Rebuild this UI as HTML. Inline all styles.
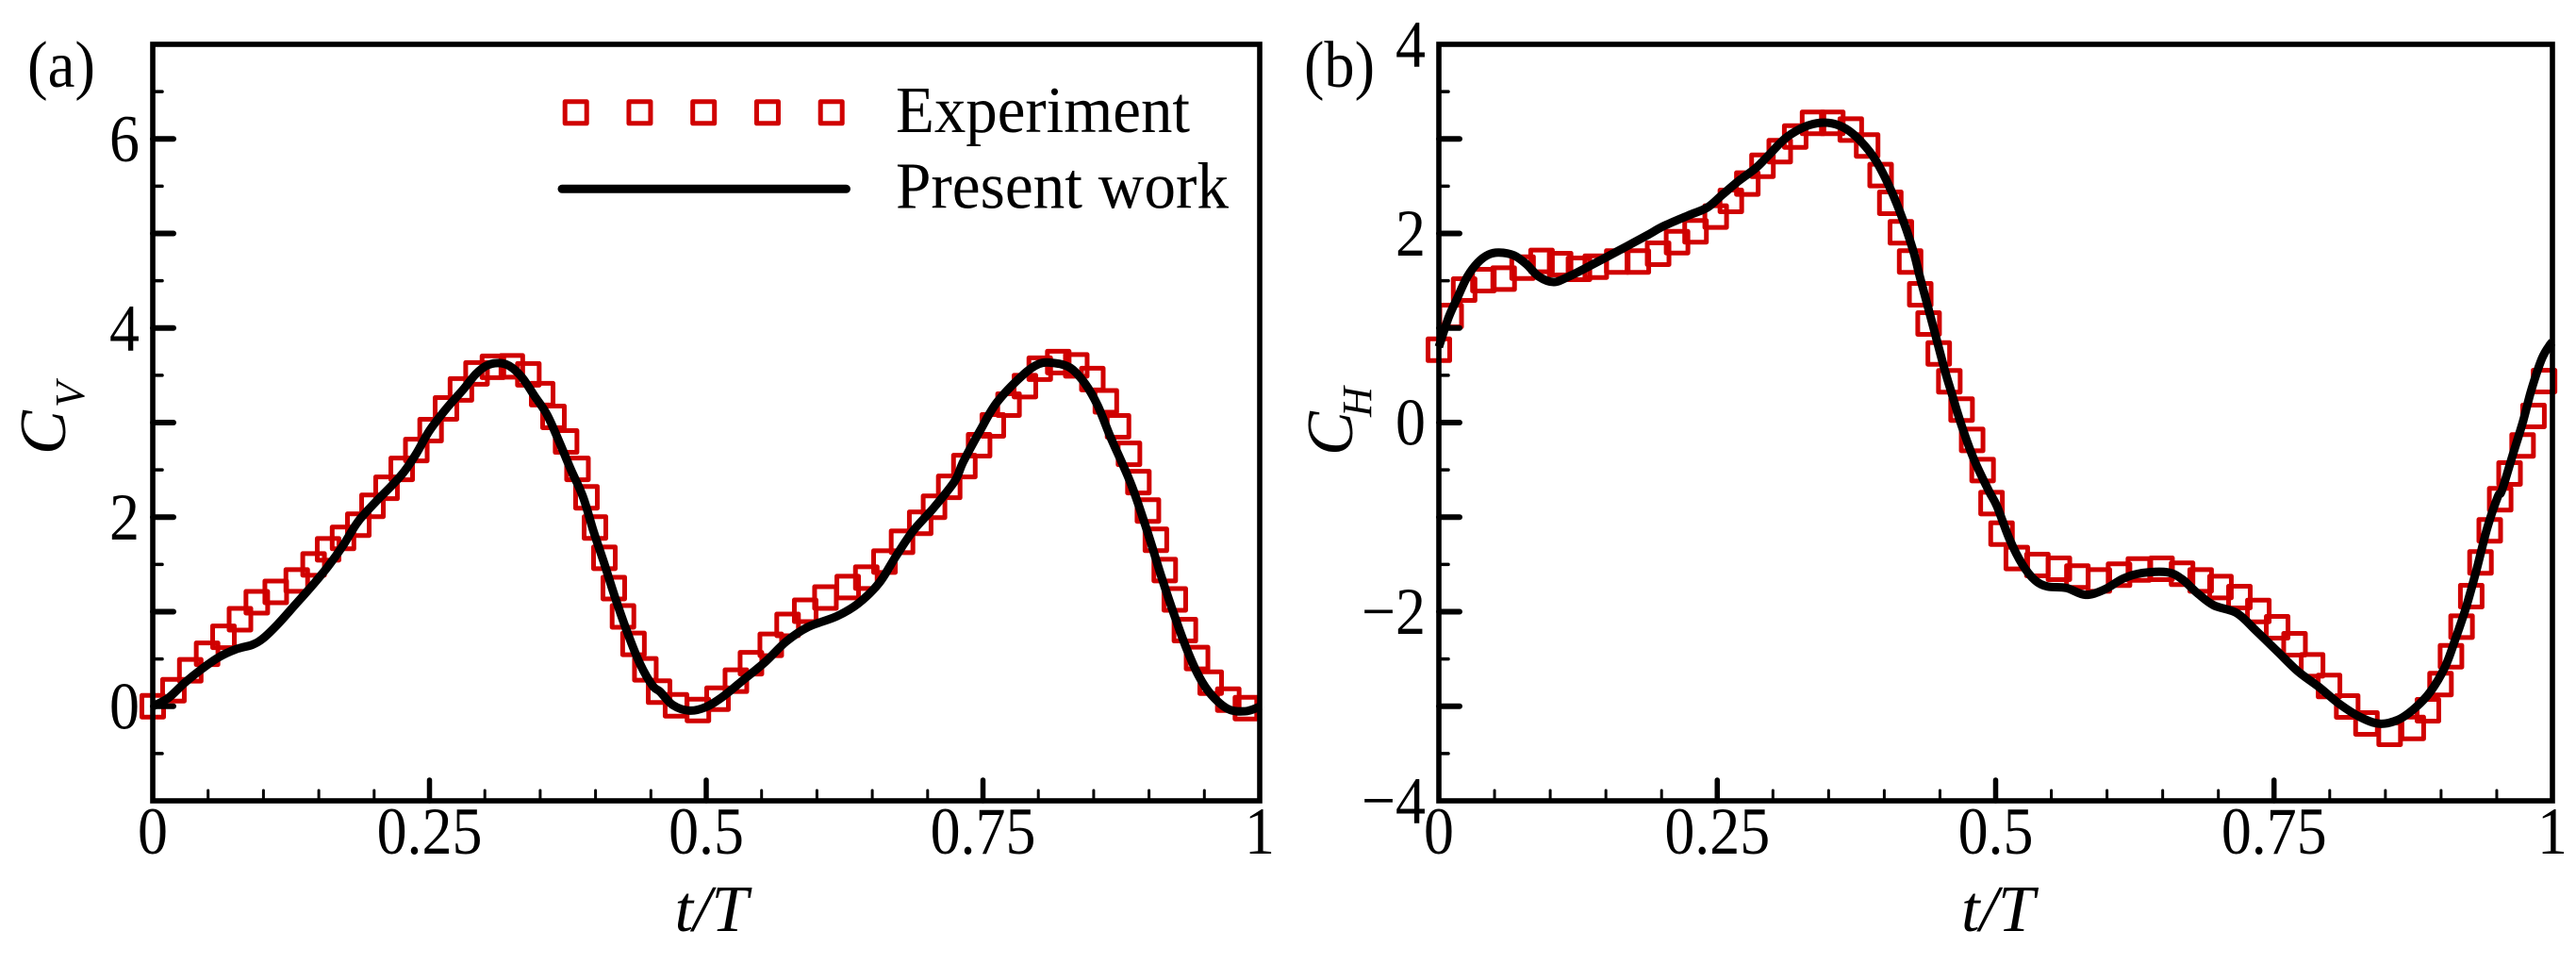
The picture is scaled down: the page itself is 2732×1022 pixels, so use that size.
<!DOCTYPE html>
<html lang="en">
<head>
<meta charset="utf-8">
<title>CV and CH over t/T</title>
<style>
html,body{margin:0;padding:0;background:#fff;width:2732px;height:1022px;overflow:hidden}
svg{display:block}
text{font-family:"Liberation Serif",serif;fill:#000}
</style>
</head>
<body>
<svg id="fig" xmlns="http://www.w3.org/2000/svg" width="2732" height="1022" viewBox="0 0 2732 1022"></svg>
<script>
// Panel (a)
const expTimeA = [0,.0187,.0339,.0491,.0639,.0788,.094,.1111,.1301,.1453,.1584,.1719,.1857,.1985,.2112,.2249,.2381,.251,.2649,.2784,.2925,.3073,.3244,.3393,.3518,.362,.3734,.3837,.3918,.3995,.408,.4165,.4248,.4343,.445,.4574,.4727,.4925,.5102,.5268,.5404,.5583,.5735,.5894,.6077,.6278,.6446,.661,.6769,.6933,.7058,.7195,.7332,.7465,.7589,.7731,.7879,.8013,.818,.8343,.8488,.861,.872,.8819,.8904,.899,.9062,.9142,.9233,.9324,.9434,.9557,.9716,.9875];
const expValueA = [0,.17,.38,.555,.735,.92,1.1,1.21,1.33,1.5,1.66,1.78,1.92,2.12,2.31,2.51,2.71,2.92,3.15,3.35,3.52,3.59,3.595,3.51,3.3,3.06,2.8,2.51,2.21,1.89,1.57,1.25,.95,.66,.39,.154,.01,-.04,.08,.27,.455,.65,.86,1.01,1.15,1.26,1.36,1.53,1.74,1.94,2.11,2.32,2.54,2.76,2.97,3.19,3.385,3.57,3.64,3.605,3.46,3.225,2.96,2.67,2.37,2.07,1.76,1.44,1.13,.805,.51,.25,.07,-.02];
const lineTimeA = [0,.0141,.0293,.0445,.0597,.075,.0902,.0997,.113,.1282,.1434,.1586,.1719,.1853,.2004,.2157,.2271,.2385,.2499,.2651,.2802,.2917,.3012,.3118,.3221,.3336,.345,.3564,.3678,.3773,.3887,.3982,.4077,.4172,.4286,.44,.4514,.4583,.4697,.4849,.5001,.5153,.5343,.5533,.5723,.5914,.618,.637,.656,.6712,.6865,.7055,.7245,.732,.7473,.7625,.7853,.8005,.8138,.829,.8423,.8537,.8652,.8766,.886,.8994,.9108,.9222,.9336,.945,.9564,.9716,.9868,.9983,1];
const lineValueA = [0,.087,.253,.396,.519,.602,.652,.718,.868,1.067,1.267,1.483,1.7,1.95,2.149,2.331,2.481,2.68,2.913,3.146,3.346,3.511,3.6,3.63,3.6,3.478,3.279,3.079,2.78,2.514,2.214,1.849,1.516,1.167,.785,.453,.219,.154,.014,-.046,-.006,.104,.286,.469,.685,.835,.952,1.084,1.301,1.583,1.849,2.099,2.381,2.581,2.913,3.212,3.495,3.62,3.63,3.578,3.411,3.179,2.847,2.548,2.281,1.815,1.384,.985,.618,.319,.12,-.03,-.053,-.013,0];

// Panel (b)
const expTimeB = [0,.0106,.0227,.04,.0582,.0752,.0922,.1089,.1258,.1409,.1602,.1787,.1969,.2139,.2305,.2486,.2622,.277,.2906,.3061,.32,.336,.3533,.3699,.3846,.3967,.4054,.4149,.4232,.4323,.4398,.4489,.4584,.4694,.4789,.4883,.4963,.5053,.519,.5375,.5568,.5734,.5927,.6108,.6286,.649,.6674,.6841,.7019,.7189,.7359,.7528,.7684,.7842,.7994,.8157,.833,.8538,.8746,.8882,.8995,.9089,.9184,.9271,.9354,.9437,.9531,.9615,.9732,.983,.9925];
const expValueB = [.77,1.127,1.406,1.506,1.523,1.639,1.709,1.676,1.626,1.649,1.703,1.703,1.786,1.908,2.022,2.178,2.344,2.527,2.716,2.87,3.025,3.169,3.169,3.099,2.93,2.617,2.324,2.012,1.703,1.357,1.047,.731,.436,.137,-.183,-.502,-.851,-1.174,-1.433,-1.506,-1.546,-1.629,-1.669,-1.609,-1.553,-1.546,-1.599,-1.669,-1.739,-1.845,-1.992,-2.165,-2.344,-2.567,-2.786,-3.002,-3.182,-3.292,-3.229,-3.042,-2.766,-2.471,-2.158,-1.835,-1.479,-1.14,-.811,-.539,-.242,.07,.439];
const lineTimeB = [0,.0087,.0163,.0256,.0351,.0446,.054,.0672,.0785,.0899,.1032,.1164,.1334,.1598,.1862,.2014,.2241,.2411,.2543,.2694,.2845,.2958,.311,.3261,.3393,.3526,.3658,.379,.3923,.4054,.4168,.4262,.4319,.4395,.447,.4545,.4596,.4691,.4804,.4937,.5012,.5125,.5239,.5352,.5465,.5636,.5806,.5976,.6146,.6316,.6542,.6674,.6807,.6958,.7166,.7336,.7525,.7714,.7903,.8092,.8281,.8451,.8621,.8772,.8904,.9037,.9131,.9226,.932,.9414,.9509,.9546,.9641,.9736,.9811,.9906,.9981,1];
const lineValueB = [.8,1.11,1.31,1.543,1.693,1.776,1.798,1.769,1.676,1.543,1.486,1.543,1.643,1.808,1.975,2.075,2.191,2.274,2.407,2.557,2.69,2.823,3.005,3.115,3.165,3.165,3.105,2.973,2.773,2.474,2.142,1.808,1.543,1.21,.878,.546,.346,-.02,-.386,-.718,-.885,-1.234,-1.499,-1.666,-1.733,-1.749,-1.822,-1.766,-1.649,-1.59,-1.583,-1.656,-1.799,-1.932,-2.015,-2.198,-2.414,-2.63,-2.796,-2.98,-3.119,-3.185,-3.139,-3.012,-2.846,-2.58,-2.281,-1.948,-1.549,-1.117,-.785,-.718,-.352,.013,.346,.678,.828,.85];

// Tick values and labels
const xMajorTicks = [0,.25,.5,.75,1];
const xMinorTicks = [.05,.1,.15,.2,.3,.35,.4,.45,.55,.6,.65,.7,.8,.85,.9,.95];
const xTickLabels = ['0','0.25','0.5','0.75','1'];
const yMajorTicksA = [0,1,2,3,4,5,6];
const yMinorTicksA = [-.5,.5,1.5,2.5,3.5,4.5,5.5,6.5];
const yLabelValuesA = [0,2,4,6];
const yTickLabelsA = ['0','2','4','6'];
const yMajorTicksB = [-3,-2,-1,0,1,2,3];
const yMinorTicksB = [-3.5,-2.5,-1.5,-.5,.5,1.5,2.5,3.5];
const yLabelValuesB = [-4,-2,0,2,4];
const yTickLabelsB = ['\u22124','\u22122','0','2','4'];
const legendMarkerSlots = [0,1,2,3,4];

const RED = '#d00000';
const svg = document.getElementById('fig');
const NS = 'http://www.w3.org/2000/svg';

function make(parent, tag, attrs, txt) {
  const el = document.createElementNS(NS, tag);
  for (const k in attrs) el.setAttribute(k, attrs[k]);
  if (txt !== undefined) el.textContent = txt;
  parent.appendChild(el);
  return el;
}

function smoothPath(pts) {
  let d = 'M' + pts[0][0].toFixed(2) + ' ' + pts[0][1].toFixed(2);
  for (let i = 0; i < pts.length - 1; i++) {
    const p0 = pts[Math.max(i - 1, 0)], p1 = pts[i], p2 = pts[i + 1], p3 = pts[Math.min(i + 2, pts.length - 1)];
    const c1x = p1[0] + (p2[0] - p0[0]) / 6, c1y = p1[1] + (p2[1] - p0[1]) / 6;
    const c2x = p2[0] - (p3[0] - p1[0]) / 6, c2y = p2[1] - (p3[1] - p1[1]) / 6;
    d += 'C' + c1x.toFixed(2) + ' ' + c1y.toFixed(2) + ' ' + c2x.toFixed(2) + ' ' + c2y.toFixed(2) + ' ' + p2[0].toFixed(2) + ' ' + p2[1].toFixed(2);
  }
  return d;
}

function drawPanel(cfg) {
  const g = make(svg, 'g', {});
  
  
  const X = t => cfg.x0 + (t - 0) / (1 - 0) * (cfg.x1 - cfg.x0);
  const Y = v => cfg.yBottom + (v - cfg.vMin) / (cfg.vMax - cfg.vMin) * (cfg.yTop - cfg.yBottom);

  // experiment markers
  const mk = make(g, 'g', {});
  
  
  cfg.expT.forEach((t, i) => {
    const r = make(mk, 'rect', {x: X(t) - 11.5, y: Y(cfg.expV[i]) - 11.5, width: 23, height: 23, fill: 'none', stroke: RED, 'stroke-width': 5, 'stroke-linejoin': 'round'});
    
    
  });

  // simulation line
  const pts = cfg.lineT.map((t, i) => [X(t), Y(cfg.lineV[i])]);
  const ln = make(g, 'path', {d: smoothPath(pts), fill: 'none', stroke: '#000', 'stroke-width': 9, 'stroke-linejoin': 'round'});
  
  

  // ticks
  xMajorTicks.slice(1, -1).forEach(t => {
    const l = make(g, 'line', {x1: X(t), x2: X(t), y1: cfg.yBottom, y2: cfg.yBottom - 22, stroke: '#000', 'stroke-width': 5.5, 'stroke-linecap': 'round'});
    
    
  });
  xMinorTicks.forEach(t => {
    const l = make(g, 'line', {x1: X(t), x2: X(t), y1: cfg.yBottom, y2: cfg.yBottom - 11, stroke: '#000', 'stroke-width': 3, 'stroke-linecap': 'round'});
    
    
  });
  cfg.yMajor.forEach(v => {
    const l = make(g, 'line', {x1: cfg.x0, x2: cfg.x0 + 22, y1: Y(v), y2: Y(v), stroke: '#000', 'stroke-width': 6, 'stroke-linecap': 'round'});
    
    
  });
  cfg.yMinor.forEach(v => {
    const l = make(g, 'line', {x1: cfg.x0, x2: cfg.x0 + 10, y1: Y(v), y2: Y(v), stroke: '#000', 'stroke-width': 3.5, 'stroke-linecap': 'round'});
    
    
  });

  // frame
  const fr = make(g, 'rect', {x: cfg.x0, y: cfg.yTop, width: cfg.x1 - cfg.x0, height: cfg.yBottom - cfg.yTop, fill: 'none', stroke: '#000', 'stroke-width': 5.6});
  
  

  // tick labels
  xMajorTicks.forEach((t, i) => {
    const tx = make(g, 'text', {transform: 'translate(' + X(t) + ',905) scale(.9,1)', 'font-size': 71, 'text-anchor': 'middle'}, xTickLabels[i]);
    
    
  });
  cfg.yLabelValues.forEach((v, i) => {
    const tx = make(g, 'text', {transform: 'translate(' + cfg.yLabelX + ',' + (Y(v) + 23.5) + ') scale(.9,1)', 'font-size': 71, 'text-anchor': 'end'}, cfg.yLabels[i]);
    
    
  });
}

drawPanel({id: 'cv', x0: 162, x1: 1336, yTop: 47, yBottom: 849, vMin: -1, vMax: 7,
  expT: expTimeA, expV: expValueA, lineT: lineTimeA, lineV: lineValueA,
  yMajor: yMajorTicksA, yMinor: yMinorTicksA, yLabelValues: yLabelValuesA, yLabels: yTickLabelsA, yLabelX: 148});
drawPanel({id: 'ch', x0: 1526, x1: 2707, yTop: 47, yBottom: 849, vMin: -4, vMax: 4,
  expT: expTimeB, expV: expValueB, lineT: lineTimeB, lineV: lineValueB,
  yMajor: yMajorTicksB, yMinor: yMinorTicksB, yLabelValues: yLabelValuesB, yLabels: yTickLabelsB, yLabelX: 1512});

// Legend
const legend = make(svg, 'g', {});


legendMarkerSlots.forEach(i => {
  const r = make(legend, 'rect', {x: 610.7 + i * 67.75 - 11.5, y: 119.3 - 11.5, width: 23, height: 23, fill: 'none', stroke: RED, 'stroke-width': 5, 'stroke-linejoin': 'round'});
  
  
});
const legLine = make(legend, 'line', {x1: 596, x2: 897.5, y1: 200.3, y2: 200.3, stroke: '#000', 'stroke-width': 9, 'stroke-linecap': 'round'});


const legT1 = make(legend, 'text', {x: 950, y: 140, 'font-size': 70, textLength: 312, lengthAdjust: 'spacingAndGlyphs'}, 'Experiment');


const legT2 = make(legend, 'text', {x: 950, y: 220.7, 'font-size': 70, textLength: 353, lengthAdjust: 'spacingAndGlyphs'}, 'Present work');



// Panel tags
const tagA = make(svg, 'text', {x: 29, y: 92, 'font-size': 70, textLength: 72, lengthAdjust: 'spacingAndGlyphs'}, '(a)');


const tagB = make(svg, 'text', {x: 1383, y: 92, 'font-size': 70, textLength: 75, lengthAdjust: 'spacingAndGlyphs'}, '(b)');



// Axis titles
const xTitleA = make(svg, 'text', {x: 754.5, y: 987, 'font-size': 70, 'font-style': 'italic', 'text-anchor': 'middle'}, 't/T');


const xTitleB = make(svg, 'text', {x: 2119, y: 987, 'font-size': 70, 'font-style': 'italic', 'text-anchor': 'middle'}, 't/T');



const yTitleA = make(svg, 'text', {transform: 'translate(69,482) rotate(-90)', 'font-size': 70, 'font-style': 'italic'}, 'C');


const yTitleASub = make(svg, 'text', {transform: 'translate(89,432) rotate(-90)', 'font-size': 44, 'font-style': 'italic'}, 'V');


const yTitleB = make(svg, 'text', {transform: 'translate(1434,483) rotate(-90)', 'font-size': 70, 'font-style': 'italic'}, 'C');


const yTitleBSub = make(svg, 'text', {transform: 'translate(1454,442) rotate(-90)', 'font-size': 44, 'font-style': 'italic'}, 'H');


</script>
</body>
</html>
